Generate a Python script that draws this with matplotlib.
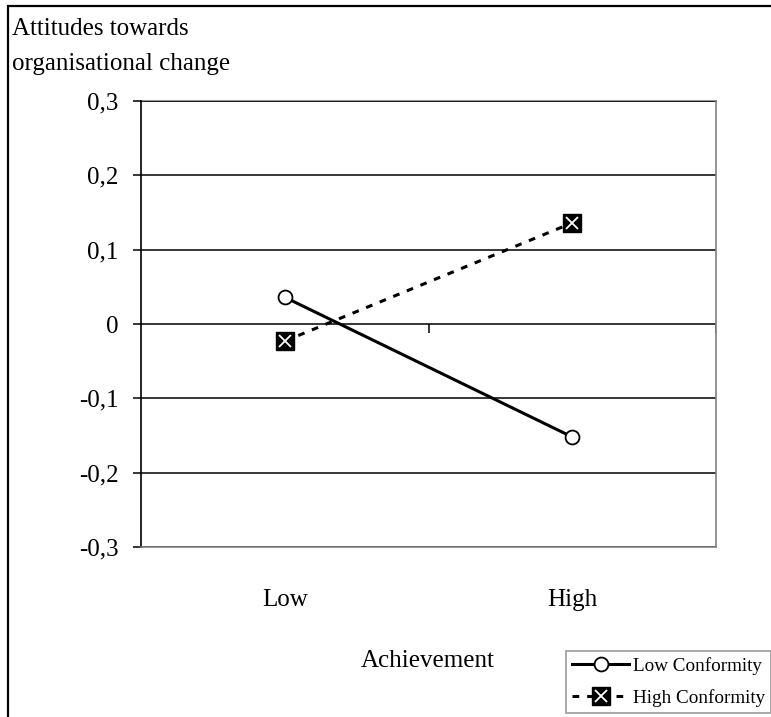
import matplotlib.pyplot as plt
from matplotlib.patches import Rectangle
from matplotlib.legend_handler import HandlerTuple

categories = ['Low', 'High']
low_conformity = [0.036, -0.152]
high_conformity = [-0.023, 0.136]
yticks = [-0.3, -0.2, -0.1, 0, 0.1, 0.2, 0.3]
ytick_labels = ['-0,3', '-0,2', '-0,1', '0', '0,1', '0,2', '0,3']

plt.rcParams['font.family'] = ['Liberation Serif', 'DejaVu Serif']
fs = 18

fig = plt.figure(figsize=(7.71, 7.17), dpi=100)
W, H = 771, 717
ax = fig.add_axes([141 / W, 1 - 547 / H, (716 - 141) / W, (547 - 101) / H])

x = list(range(len(categories)))
ax.set_xlim(-0.5, len(categories) - 0.5)
ax.set_ylim(-0.3, 0.3)

# horizontal gridlines + zero axis
for v in yticks:
    ax.axhline(v, color='black', lw=1.1, zorder=1)
ax.vlines([0.5, 1.5], -0.012, 0, color='black', lw=1.1, zorder=1)

# frame
for s in ['top', 'right', 'bottom']:
    ax.spines[s].set_color('#808080')
    ax.spines[s].set_linewidth(1.2)
ax.spines['top'].set_zorder(0.5)
ax.spines['left'].set_color('black')
ax.spines['left'].set_linewidth(1.2)

ax.set_yticks(yticks)
ax.set_yticklabels(ytick_labels, fontsize=fs)
ax.tick_params(axis='y', length=6, width=1.1, pad=10, direction='out')
ax.set_xticks(x)
ax.set_xticklabels(categories, fontsize=fs)
ax.tick_params(axis='x', length=0, pad=30)

# series
l1, = ax.plot(x, low_conformity, color='black', lw=2.2, marker='o', markersize=10,
              markerfacecolor='white', markeredgecolor='black', markeredgewidth=1.3, zorder=3)
l2, = ax.plot(x, high_conformity, color='black', lw=2.2, linestyle=(0, (2.2, 2.6)),
              marker='s', markersize=12.5, markerfacecolor='black', markeredgecolor='black', zorder=3)
l2x, = ax.plot(x, high_conformity, linestyle='none', marker='x', markersize=9,
               markeredgecolor='white', markeredgewidth=1.3, zorder=4)

fig.text(12 / W, 1 - 35 / H, 'Attitudes towards', fontsize=fs, ha='left', va='baseline')
fig.text(12 / W, 1 - 70 / H, 'organisational change', fontsize=fs, ha='left', va='baseline')
fig.text(428 / W, 1 - 661 / H, 'Achievement', fontsize=fs, ha='center', va='center')

leg = fig.legend([l1, (l2, l2x)], ['Low Conformity', 'High Conformity'],
                 handler_map={tuple: HandlerTuple(ndivide=1)},
                 loc='upper left', bbox_to_anchor=(566 / W, 1 - 651 / H),
                 fontsize=13.8, frameon=True, fancybox=False, handlelength=3.0,
                 handletextpad=0.2, borderpad=0.3, labelspacing=0.75, borderaxespad=0)
leg.get_frame().set_edgecolor('#808080')
leg.get_frame().set_linewidth(1.2)

# outer figure border (only left/top visible)
fig.patches.append(Rectangle((8 / W, -0.1), 1.1, 1.1 - 6 / H, transform=fig.transFigure,
                             fill=False, edgecolor='black', lw=1.6))

fig.savefig('out.png', dpi=100)
